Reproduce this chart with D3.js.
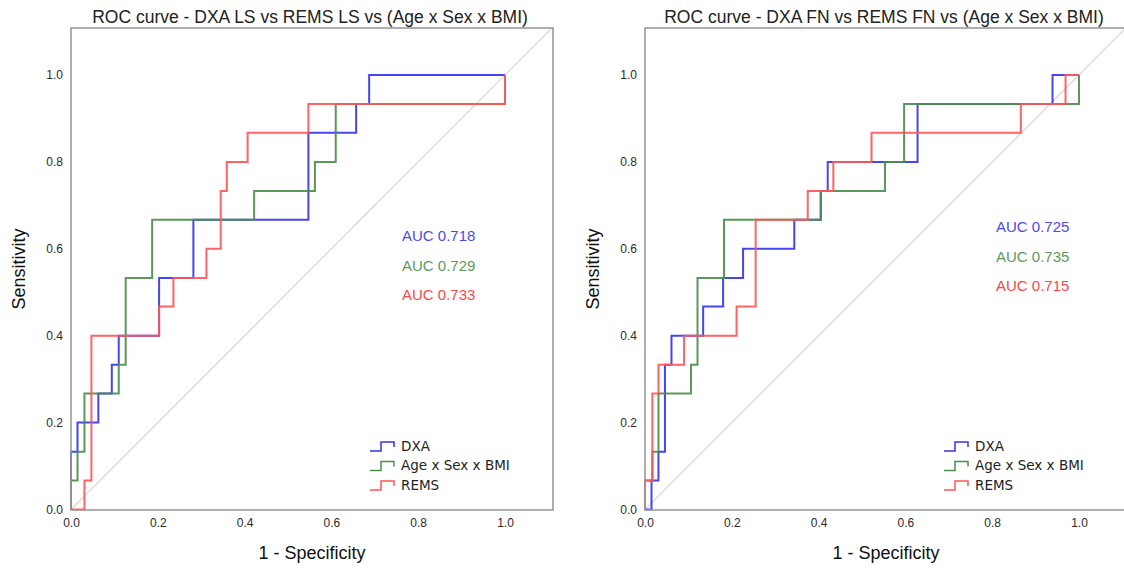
<!DOCTYPE html>
<html><head><meta charset="utf-8">
<script src="https://cdn.jsdelivr.net/npm/d3@7"></script>
<style>body{margin:0;background:#fff} svg{display:block}</style>
</head><body>
<svg id="c" width="1124" height="569"></svg>
<script>
// ---------- DATA ----------
const axisTicks = [0.0, 0.2, 0.4, 0.6, 0.8, 1.0];
const seriesNames = ["DXA", "Age x Sex x BMI", "REMS"];
const titles = [
  "ROC curve - DXA LS vs REMS LS vs (Age x Sex x BMI)",
  "ROC curve - DXA FN vs REMS FN vs (Age x Sex x BMI)"
];
// [1 - specificity, sensitivity] corner points of each ROC step curve
const lsDXA = [[0,0],[0,0.133],[0.015,0.2],[0.063,0.267],[0.094,0.333],[0.11,0.4],[0.203,0.533],[0.282,0.667],[0.547,0.867],[0.657,0.933],[0.687,1.0],[1.0,1.0]];
const lsAge = [[0,0],[0,0.067],[0.015,0.133],[0.031,0.267],[0.11,0.333],[0.126,0.533],[0.187,0.667],[0.422,0.733],[0.562,0.8],[0.61,0.933],[1.0,1.0]];
const lsREMS = [[0,0],[0.031,0.067],[0.047,0.4],[0.203,0.467],[0.236,0.533],[0.312,0.6],[0.345,0.733],[0.359,0.8],[0.407,0.867],[0.547,0.933],[1.0,1.0]];
const fnDXA = [[0,0],[0.015,0.067],[0.031,0.133],[0.046,0.333],[0.061,0.4],[0.134,0.467],[0.18,0.533],[0.226,0.6],[0.344,0.667],[0.405,0.733],[0.421,0.8],[0.628,0.933],[0.939,1.0],[1.0,1.0]];
const fnAge = [[0,0],[0,0.067],[0.017,0.133],[0.031,0.267],[0.106,0.333],[0.121,0.533],[0.182,0.667],[0.405,0.733],[0.553,0.8],[0.597,0.933],[1.0,1.0]];
const fnREMS = [[0,0],[0,0.067],[0.017,0.267],[0.031,0.333],[0.09,0.4],[0.211,0.467],[0.255,0.667],[0.375,0.733],[0.434,0.8],[0.522,0.867],[0.866,0.933],[0.969,1.0],[1.0,1.0]];
const lsAUC = [0.718, 0.729, 0.733];
const fnAUC = [0.725, 0.735, 0.715];

// ---------- STYLE / LAYOUT ----------
const lineColors = ["#3535f0", "#4a8f4a", "#ff5656"];
const aucColors = ["#4b4be6", "#5c9a5c", "#f24a4a"];
const panels = [
  {left: 71, title: titles[0], series: [lsDXA, lsAge, lsREMS], auc: lsAUC, aucX: 331, aucY: [208, 237.5, 267]},
  {left: 645, title: titles[1], series: [fnDXA, fnAge, fnREMS], auc: fnAUC, aucX: 351, aucY: [199, 228.5, 258]}
];
const frameTop = 28, frame = 482;

const svg = d3.select("#c");
const x = d3.scaleLinear().domain([0, 1]).range([0, 434]);
const y = d3.scaleLinear().domain([0, 1]).range([481.5, 47]);
const line = d3.line().x(d => x(d[0])).y(d => y(d[1])).curve(d3.curveStepAfter);

panels.forEach((p, pi) => {
  const g = svg.append("g").attr("transform", `translate(${p.left},${frameTop})`);
  const clipId = "clip" + pi;
  g.append("clipPath").attr("id", clipId).append("rect").attr("width", frame).attr("height", frame);

  // title
  svg.append("text").attr("x", p.left + frame / 2 - 2).attr("y", 23)
    .attr("text-anchor", "middle").attr("font-family", "Liberation Sans, Arial, sans-serif")
    .attr("font-size", 17.5).attr("fill", "#222").text(p.title);

  // diagonal reference
  const xmax = x.invert(frame);
  g.append("line").attr("clip-path", `url(#${clipId})`)
    .attr("x1", x(0)).attr("y1", y(0)).attr("x2", x(xmax)).attr("y2", y(xmax))
    .attr("stroke", "#d6d6d6").attr("stroke-width", 1.2);

  // curves
  p.series.forEach((s, i) => {
    g.append("path").datum(s).attr("d", line).attr("fill", "none")
      .attr("stroke", lineColors[i]).attr("stroke-width", 2).attr("stroke-opacity", 0.92);
  });

  // frame
  g.append("rect").attr("x", 0).attr("y", 0).attr("width", frame).attr("height", frame)
    .attr("fill", "none").attr("stroke", "#9a9a9a").attr("stroke-width", 1.6);

  // axes
  const xa = g.append("g").attr("transform", `translate(0,${frame})`)
    .call(d3.axisBottom(x).tickValues(axisTicks).tickFormat(d3.format(".1f")).tickSize(0).tickPadding(8));
  const ya = g.append("g")
    .call(d3.axisLeft(y).tickValues(axisTicks).tickFormat(d3.format(".1f")).tickSize(0).tickPadding(8));
  [xa, ya].forEach(a => {
    a.select(".domain").remove();
    a.selectAll("text").attr("font-family", "Liberation Sans, Arial, sans-serif")
      .attr("font-size", 12).attr("fill", "#2a2a2a");
  });

  // axis titles
  g.append("text").attr("x", frame / 2).attr("y", 531).attr("text-anchor", "middle")
    .attr("font-family", "Liberation Sans, Arial, sans-serif").attr("font-size", 18)
    .attr("fill", "#111").text("1 - Specificity");
  g.append("text").attr("transform", `translate(-46,${frame / 2}) rotate(-90)`)
    .attr("text-anchor", "middle").attr("font-family", "Liberation Sans, Arial, sans-serif")
    .attr("font-size", 18).attr("fill", "#111").text("Sensitivity");

  // AUC labels
  p.auc.forEach((a, i) => {
    g.append("text").attr("x", p.aucX).attr("y", p.aucY[i]).attr("dy", "0.35em")
      .attr("font-family", "Liberation Sans, Arial, sans-serif").attr("font-size", 15)
      .attr("fill", aucColors[i]).text("AUC " + d3.format(".3f")(a));
  });

  // legend
  const lg = g.append("g").attr("transform", "translate(299,418)");
  seriesNames.forEach((n, i) => {
    const r = lg.append("g").attr("transform", `translate(0,${i * 19.5})`);
    r.append("path").attr("d", "M0,5H11V-4H24V1").attr("fill", "none")
      .attr("stroke", lineColors[i]).attr("stroke-width", 1.5);
    r.append("text").attr("x", 31).attr("y", 0).attr("dy", "0.36em")
      .attr("font-family", "DejaVu Sans, sans-serif").attr("font-size", 13.5)
      .attr("fill", "#222").text(n);
  });
});
</script>
</body></html>
